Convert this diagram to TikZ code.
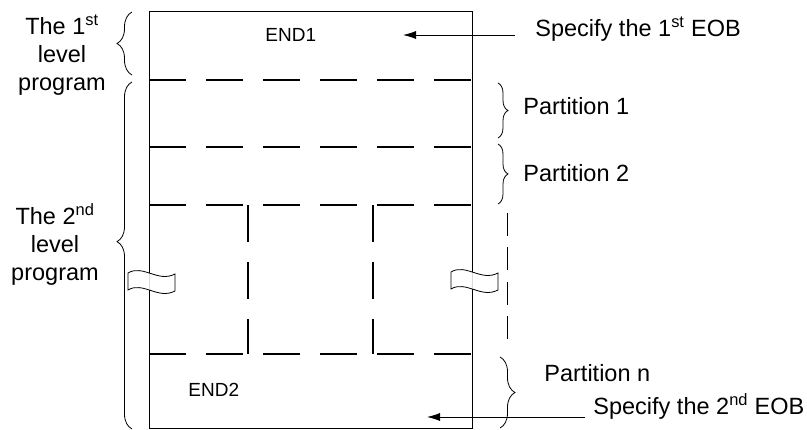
\documentclass[tikz,border=0pt]{standalone}
\usepackage{fontspec}
\setmainfont{Liberation Sans}
\usepackage{tikz}
\usetikzlibrary{decorations.pathreplacing, arrows.meta}

\tikzset{
  lbl/.style={inner sep=0pt, font=\fontsize{23.5}{28}\selectfont},
  endlbl/.style={inner sep=0pt, font=\fontsize{19}{22}\selectfont},
  sect/.style={line width=2pt, dash pattern=on 37pt off 20pt},
  skipline/.style={line width=0.8pt, dash pattern=on 23pt off 11.5pt},
  curly/.style={decorate, decoration={brace, amplitude=#1}},
  breakmark/.style={fill=white, fill opacity=0.85}
}

\begin{document}
\begin{tikzpicture}[x=1pt, y=-1pt, line width=0.8pt]

\useasboundingbox (0,0) rectangle (807,430);

\draw (149,11) rectangle (472,428);

\draw [sect] (149,80) -- (472,80);
\draw [sect] (149,147) -- (472,147);
\draw [sect] (149,205) -- (472,205);
\draw [sect] (149,354) -- (472,354);

\draw [sect] (248,205) -- (248,354);
\draw [sect] (373,205) -- (373,354);

\draw [skipline] (507,213) -- (507,340);

\draw [breakmark] (128,273) .. controls (143,264) and (158,283) .. (175,274) -- (175,291) .. controls (158,300) and (143,281) .. (128,290) -- cycle;
\draw [breakmark] (451,272) .. controls (466,263) and (481,282) .. (498,273) -- (498,290) .. controls (481,299) and (466,280) .. (451,289) -- cycle;

\node [endlbl, anchor=base west] (end1) at (265,42) {END1};
\node [endlbl, anchor=base west] (end2) at (188,397) {END2};

\node [lbl, align=center] (lvl1) at (62,55) {The 1\textsuperscript{st}\\level\\program};
\node [lbl, align=center] (lvl2) at (55,244) {The 2\textsuperscript{nd}\\level\\program};

\draw [curly=15pt] (132,75) -- (132,12);
\draw [curly=15pt, decoration={aspect=0.54}] (132,429) -- (132,82);

\node [lbl, anchor=base west] (part1) at (523,115) {Partition 1};
\node [lbl, anchor=base west] (part2) at (523,182) {Partition 2};
\node [lbl, anchor=base west] (partn) at (544,382) {Partition n};

\draw [curly=10pt] (498,83) -- (498,138);
\draw [curly=10pt] (498,144) -- (498,204);
\draw [curly=15pt] (500,357) -- (500,428);

\node [lbl, anchor=base west] (eob1 text) at (535,37) {Specify the 1\textsuperscript{st} EOB};
\coordinate (eob1 tail) at (515,35);
\coordinate (eob1) at (403,35);
\draw [>={Latex[length=13pt, width=8pt]}, ->] (eob1 tail) -- (eob1);

\node [lbl, anchor=base west] (eob2 text) at (593,415) {Specify the 2\textsuperscript{nd} EOB};
\coordinate (eob2 tail) at (585,417);
\coordinate (eob2) at (427,417);
\draw [>={Latex[length=13pt, width=8pt]}, ->] (eob2 tail) -- (eob2);

\end{tikzpicture}
\end{document}
